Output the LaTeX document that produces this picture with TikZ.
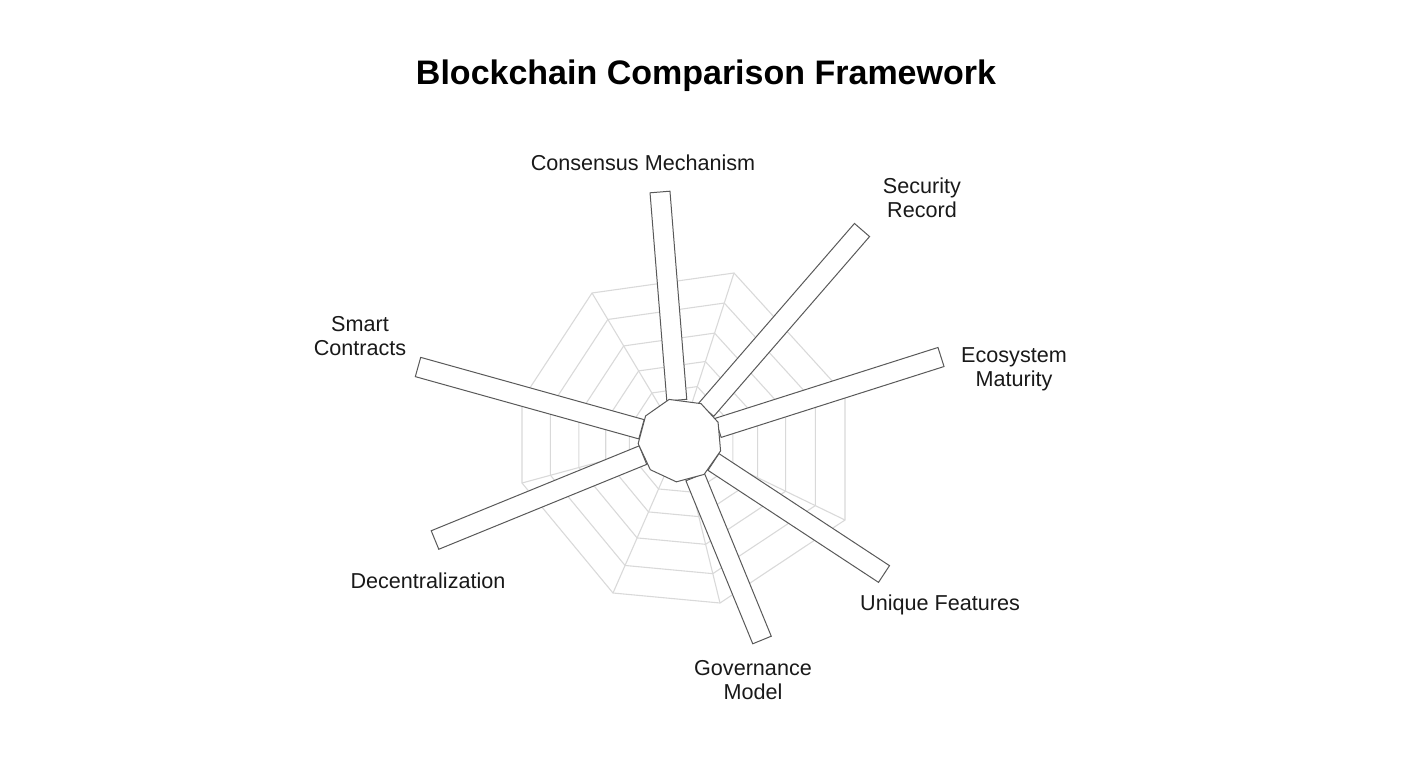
\documentclass[tikz,border=0pt]{standalone}
\usepackage{fontspec}
\setmainfont{Liberation Sans}
\usetikzlibrary{calc}
\begin{document}
\begin{tikzpicture}[x=1pt,y=-1pt,
  web/.style={draw=black!15,line width=1.1pt},
  bar/.style={draw=black!65,fill=white,line width=1pt},
  lab/.style={font=\fontsize{21.6}{24}\selectfont,align=center,text=black!90}]
\useasboundingbox (0,0) rectangle (1408,768);
\node[font=\bfseries\fontsize{34}{38}\selectfont] (title) at (706,76) {Blockchain Comparison Framework};
\coordinate (c) at (680,440);
\foreach \x/\y [count=\i] in {592/293,734/273,845/395,845/520,720/603,613/593,522/483,522/400} {\coordinate (v\i) at (\x,\y);}
\foreach \s in {1,0.82,0.64,0.47,0.32}
  \draw[web] ($(c)!\s!(v1)$) -- ($(c)!\s!(v2)$) -- ($(c)!\s!(v3)$) -- ($(c)!\s!(v4)$) -- ($(c)!\s!(v5)$) -- ($(c)!\s!(v6)$) -- ($(c)!\s!(v7)$) -- ($(c)!\s!(v8)$) -- cycle;
\foreach \i in {1,...,8} \draw[web] (c) -- (v\i);
\foreach \n/\x/\y in {cm/660/192,sr/862/230,em/941/357,uf/884/574,gm/762/640,de/435/540,sc/418/367} {
  \coordinate (e\n) at (\x,\y);
  \coordinate (s\n) at ($(c)!40pt!(e\n)$);
  \draw[bar] ($(s\n)!10pt!90:(e\n)$) -- ($(e\n)!10pt!-90:(s\n)$) -- ($(e\n)!10pt!90:(s\n)$) -- ($(s\n)!10pt!-90:(e\n)$) -- cycle;
}
\draw[bar] ($(c)+(95:42)$) -- ($(c)+(135:42)$) -- ($(c)+(175:42)$) -- ($(c)+(215:42)$) -- ($(c)+(255:42)$) -- ($(c)+(300:42)$) -- ($(c)+(335:42)$) -- ($(c)+(15:42)$) -- ($(c)+(55:42)$) -- cycle;
\node[lab] (lcm) at (643,163) {Consensus Mechanism};
\node[lab] (lsr) at (922,198) {Security\\Record};
\node[lab] (lem) at (1014,369) {Ecosystem\\Maturity};
\node[lab] (luf) at (940,605) {Unique Features};
\node[lab] (lgm) at (753,680) {Governance\\Model};
\node[lab] (lde) at (428,581) {Decentralization};
\node[lab] (lsc) at (360,336) {Smart\\Contracts};
\end{tikzpicture}
\end{document}
